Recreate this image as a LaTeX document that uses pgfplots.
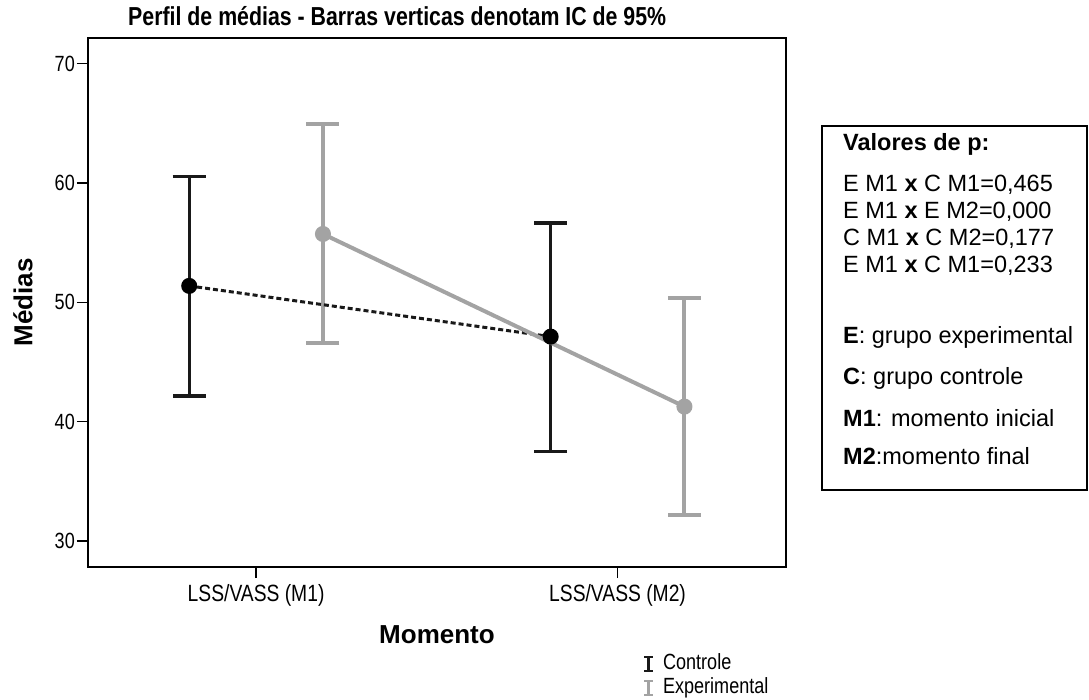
\documentclass[border=0pt]{standalone}
\usepackage{fontspec}
\setmainfont{Liberation Sans}
\newfontfamily\narrow[FakeStretch=0.82]{Liberation Sans}
\usepackage{pgfplots}
\usepackage{pgfplotstable}
\pgfplotsset{compat=1.18}
\definecolor{eg}{RGB}{163,163,163}
\definecolor{cb}{RGB}{25,25,25}

\pgfplotstableread{
x y ep em
-0.185 51.37 9.15 9.22
0.815 47.12 9.52 9.63
}\controle
\pgfplotstableread{
x y ep em
0.185 55.72 9.19 9.13
1.185 41.26 9.07 9.07
}\experimental

\begin{document}
\begin{tikzpicture}
\useasboundingbox (0,0) rectangle (1089bp,700bp);
\begin{axis}[
  at={(88bp,133bp)}, anchor=south west,
  width=698bp, height=529bp, scale only axis,
  xmin=-0.465, xmax=1.466, ymin=27.82, ymax=72.14,
  axis line style={line width=1.5bp, black},
  xtick={0,1}, xticklabels={LSS/VASS (M1), LSS/VASS (M2)},
  ytick={30,40,50,60,70},
  xtick pos=left, ytick pos=left,
  tick align=outside, major tick length=11bp,
  tick style={line width=1.3bp, black},
  /pgf/number format/assume math mode=true,
  yticklabel style={font=\narrow\fontsize{22bp}{22bp}\selectfont, inner sep=2bp},
  xticklabel style={font=\narrow\fontsize{23.5bp}{23.5bp}\selectfont, yshift=-3bp},
  title={Perfil de médias - Barras verticas denotam IC de 95\%},
  title style={font=\narrow\bfseries\fontsize{26bp}{26bp}\selectfont, at={(axis description cs:0.443,1.030)}, anchor=center, inner sep=0pt},
  xlabel={Momento},
  xlabel style={font=\bfseries\fontsize{26bp}{26bp}\selectfont, at={(axis description cs:0.5,-0.1285)}, anchor=center, inner sep=0pt},
  ylabel={Médias},
  ylabel style={font=\bfseries\fontsize{26bp}{26bp}\selectfont, at={(axis description cs:-0.093,0.5)}, anchor=center, inner sep=0pt},
  legend style={at={(0.795,-0.163)}, anchor=north west, draw=none, fill=none,
    font=\narrow\fontsize{22bp}{25bp}\selectfont, inner sep=0bp, row sep=3bp,
    nodes={inner sep=0pt, text height=16bp, text depth=5bp},
    /tikz/every odd column/.append style={column sep=9bp}},
  legend cell align=left,
  legend image code/.code={
    \draw[line width=2.6bp,#1] (4.5bp,-7bp)--(4.5bp,7bp);
    \draw[line width=2bp,#1] (0bp,-7bp)--(9bp,-7bp) (0bp,7bp)--(9bp,7bp);},
]
% experimental error bars
\addplot[eg, only marks, mark=none, forget plot,
  error bars/.cd, y dir=both, y explicit, error mark=-,
  error bar style={line width=4bp, eg},
  error mark options={rotate=90, line width=4bp, eg, mark size=16.5bp}]
  table[x=x,y=y,y error plus=ep,y error minus=em]{\experimental};
% control error bars
\addplot[cb, only marks, mark=none, forget plot,
  error bars/.cd, y dir=both, y explicit, error mark=-,
  error bar style={line width=3.2bp, cb},
  error mark options={rotate=90, line width=3.2bp, cb, mark size=16.5bp}]
  table[x=x,y=y,y error plus=ep,y error minus=em]{\controle};
% control line
\addplot[cb, line width=3bp, dash pattern=on 5bp off 3bp, mark=*, mark size=6.5bp,
  mark options={solid, fill=black, draw=black}, forget plot]
  table[x=x,y=y]{\controle};
% experimental line
\addplot[eg, line width=4bp, mark=*, mark size=6bp,
  mark options={solid, fill=eg, draw=eg}, forget plot]
  table[x=x,y=y]{\experimental};
\addlegendimage{cb}
\addlegendentry{Controle}
\addlegendimage{eg}
\addlegendentry{Experimental}
\end{axis}
% p-value box
\draw[line width=1.3bp, black] (822bp,574bp) rectangle (1087bp,210bp);
\begin{scope}[every node/.style={anchor=base west, inner sep=0pt, font=\fontsize{23.5bp}{27bp}\selectfont}]
\node at (843bp,549.5bp) {\bfseries Valores de p:};
\node at (843bp,508.5bp) {E M1 \textbf{x} C M1=0,465};
\node at (843bp,481.5bp) {E M1 \textbf{x} E M2=0,000};
\node at (843bp,454.5bp) {C M1 \textbf{x} C M2=0,177};
\node at (843bp,427.5bp) {E M1 \textbf{x} C M1=0,233};
\node at (843bp,356.5bp) {\textbf{E}: grupo experimental};
\node at (843bp,315.5bp) {\textbf{C}: grupo controle};
\node at (843bp,273.5bp) {\textbf{M1}: momento inicial};
\node at (843bp,235.5bp) {\textbf{M2}:momento final};
\end{scope}
\end{tikzpicture}
\end{document}
